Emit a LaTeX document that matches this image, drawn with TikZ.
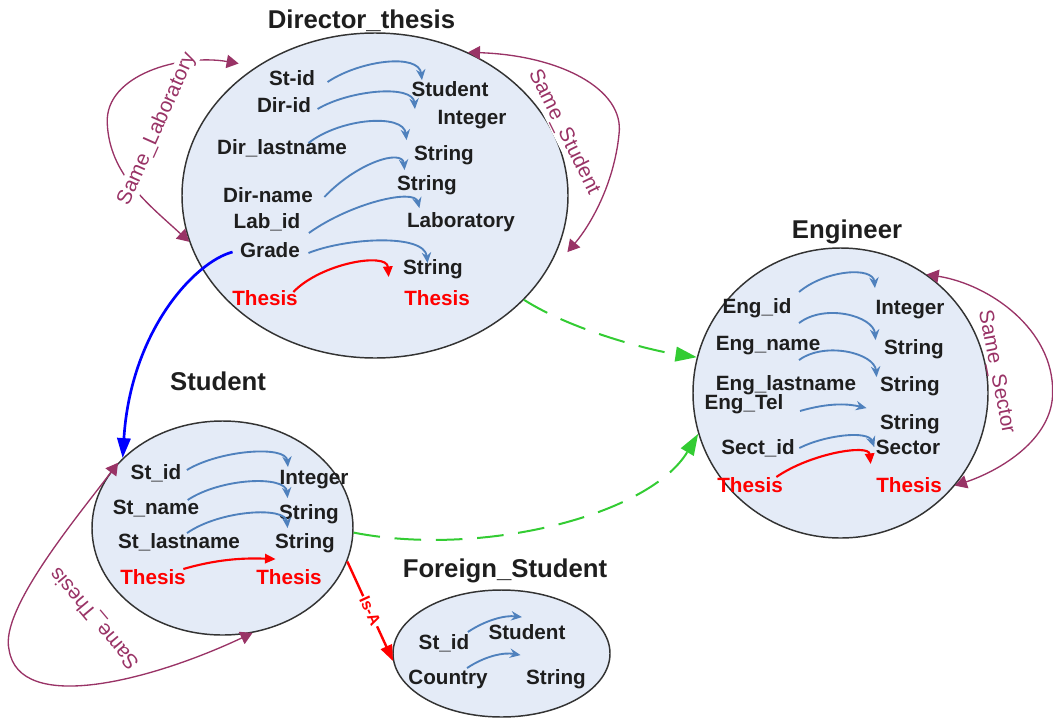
\documentclass[tikz,border=0pt]{standalone}
\usepackage{fontspec}
\setmainfont{Liberation Sans}
\usetikzlibrary{arrows.meta, positioning, shapes.geometric}
\definecolor{entfill}{RGB}{228,235,247}
\definecolor{typeblue}{RGB}{79,129,189}
\definecolor{loopcolor}{RGB}{153,51,102}
\definecolor{linkgreen}{RGB}{51,204,51}
\definecolor{inkcolor}{RGB}{30,30,30}
\tikzset{
  entity/.style    = {ellipse, draw=black!80, fill=entfill, line width=1.1pt, inner sep=0pt},
  enttitle/.style  = {font=\fontsize{19.3}{22}\selectfont\bfseries, text=inkcolor,
                      inner sep=1pt, text height=13.8pt, text depth=0pt},
  attr/.style      = {font=\fontsize{15.5}{18}\selectfont\bfseries, text=inkcolor,
                      inner sep=1pt, text height=11pt, text depth=0pt},
  thesis/.style    = {attr, text=red},
  typearrow/.style = {-{Stealth[length=8pt,width=7pt]}, typeblue, line width=1.4pt},
  refarrow/.style  = {-{Triangle[length=8pt,width=7pt]}, red, line width=1.6pt},
  gradearrow/.style= {-{Triangle[length=15pt,width=10pt]}, blue, line width=2pt},
  isaarrow/.style  = {-{Triangle[length=12pt,width=9pt]}, red, line width=1.8pt},
  isalabel/.style  = {font=\fontsize{12}{14}\selectfont\bfseries, text=red, fill=white, inner sep=1pt},
  selfloop/.style  = {{Triangle[length=9pt,width=10pt]}-{Triangle[length=9pt,width=10pt]},
                      loopcolor, line width=1pt},
  looplabel/.style = {font=\fontsize{15.5}{18}\selectfont, text=loopcolor, inner sep=1pt},
  assoc/.style     = {-{Triangle[length=16pt,width=11pt]}, linkgreen, line width=1.5pt,
                      dash pattern=on 20pt off 11pt},
}

\begin{document}
\begin{tikzpicture}[x=0.75pt, y=-0.75pt]
  \useasboundingbox (0,0) rectangle (1053,718);
  % entities
  \node[entity, minimum width=289.5pt, minimum height=243.75pt] (dir) at (375,195.5) {};
  \node[entity, minimum width=221.25pt, minimum height=217.5pt] (eng) at (840.5,393) {};
  \node[entity, minimum width=195.75pt, minimum height=160.5pt] (stu) at (222.5,528) {};
  \node[entity, minimum width=162.75pt, minimum height=95.25pt] (fst) at (501.5,653.5) {};
  \node[enttitle] (dirT) at (361.5,19) {Director\_thesis};
  \node[enttitle] (engT) at (847,229) {Engineer};
  \node[enttitle] (stuT) at (218,381.5) {Student};
  \node[enttitle] (fstT) at (505,568.5) {Foreign\_Student};

  % Director_thesis attributes
  \foreach \n/\x/\y/\t in {dSt/292/78/St-id, dDid/284/105/Dir-id, dDln/282/147/Dir\_lastname,
      dDnm/268/195/Dir-name, dLab/267/221/Lab\_id, dGr/270/250/Grade,
      tStu/450/89/Student, tInt/472/117/Integer, tS1/444/153/String, tS2/427/183/String,
      tLab/461/220/Laboratory, tS3/433/267/String} {
    \node[attr] (\n) at (\x,\y) {\t};
  }
  \node[thesis] (dTh) at (265,298) {Thesis};
  \node[thesis] (tTh) at (437,298) {Thesis};
  \draw[typearrow] ([shift={(11,4)}]dSt.east) .. controls +(33,-22) and +(-3,-27) .. ([shift={(12,0)}]tStu.north west);
  \draw[typearrow] ([shift={(5,4)}]dDid.east) .. controls +(32,-19) and +(-2,-25) .. ([shift={(-21,1)}]tInt.north west);
  \draw[typearrow] ([shift={(-40,-4)}]dDln.east) .. controls +(32,-25) and +(-3,-27) .. ([shift={(-6,-4)}]tS1.north west);
  \draw[typearrow] ([shift={(10,2)}]dDnm.east) .. controls +(32,-34) and +(-2,-22) .. ([shift={(9,-4)}]tS2.north west);
  \draw[typearrow] ([shift={(7,12)}]dLab.east) .. controls +(42,-30) and +(-5,-20) .. ([shift={(14,-3)}]tLab.north west);
  \draw[typearrow] ([shift={(7,3)}]dGr.east) .. controls +(37,-15) and +(-3,-30) .. ([shift={(26,5)}]tS3.north west);
  \draw[refarrow] ([shift={(-6,-6)}]dTh.east) .. controls +(28,-29) and +(-2,-25) .. ([shift={(-14,-12)}]tTh.north west);

  % Engineer attributes
  \foreach \n/\x/\y/\t in {eId/757/306/Eng\_id, eNm/768/343/Eng\_name, eLn/786/383/Eng\_lastname,
      eTel/744/402/Eng\_Tel, eSec/758/447/Sect\_id, eInt/910/307/Integer, eS1/914/347/String,
      eS2/910/384/String, eS3/910/422/String, eSct/908/447/Sector} {
    \node[attr] (\n) at (\x,\y) {\t};
  }
  \node[thesis] (eTh) at (750,485) {Thesis};
  \node[thesis] (eTt) at (909,485) {Thesis};
  \draw[typearrow] ([shift={(6,-14)}]eId.east) .. controls +(26,-22) and +(-2,-22) .. ([shift={(1,-10)}]eInt.north west);
  \draw[typearrow] ([shift={(31,-11)}]eNm.north) .. controls +(26,-20) and +(-2,-24) .. ([shift={(-7,2)}]eS1.north west);
  \draw[typearrow] ([shift={(13,-14)}]eLn.north) .. controls +(26,-19) and +(-2,-24) .. ([shift={(-2,2)}]eS2.north west);
  \draw[typearrow] ([shift={(15,9)}]eTel.east) .. controls +(31,-9) and +(-17,-4) .. ([shift={(-12,-5)}]eS3.north west);
  \draw[typearrow] ([shift={(3,1)}]eSec.east) .. controls +(26,-13) and +(-6,-17) .. ([shift={(0,9)}]eSct.north west);
  \draw[refarrow] ([shift={(-8,-8)}]eTh.east) .. controls +(35,-24) and +(-2,-20) .. ([shift={(-4,-12)}]eTt.north west);

  % Student attributes
  \foreach \n/\x/\y/\t in {sId/156/472/St\_id, sNm/156/507/St\_name, sLn/179/541/St\_lastname,
      sInt/314/477/Integer, sS1/309/512/String, sS2/305/541/String} {
    \node[attr] (\n) at (\x,\y) {\t};
  }
  \node[thesis] (sTh) at (153,577) {Thesis};
  \node[thesis] (sTt) at (289,577) {Thesis};
  \draw[typearrow] ([shift={(4,-2)}]sId.east) .. controls +(33,-20) and +(-2,-22) .. ([shift={(10,-1)}]sInt.north west);
  \draw[typearrow] ([shift={(-13,-7)}]sNm.east) .. controls +(33,-22) and +(-2,-23) .. ([shift={(10,-5)}]sS1.north west);
  \draw[typearrow] ([shift={(8,1)}]sLn.north) .. controls +(33,-23) and +(-2,-22) .. ([shift={(14,-4)}]sS2.north west);
  \draw[refarrow] ([shift={(-4,-8)}]sTh.east) .. controls +(38,-11) and +(-27,-1) .. ([shift={(21,-9)}]sTt.north west);

  % Foreign_Student attributes
  \foreach \n/\x/\y/\t in {fId/444/642/St\_id, fCo/448/677/Country, fStu/527/632/Student, fStr/556/677/String} {
    \node[attr] (\n) at (\x,\y) {\t};
  }
  \draw[typearrow] ([shift={(-3,-10)}]fId.east) .. controls +(18,-12) and +(-17,-2) .. ([shift={(35,-6)}]fStu.north west);
  \draw[typearrow] ([shift={(19,0)}]fCo.north) .. controls +(18,-12) and +(-17,-3) .. ([shift={(-4,-13)}]fStr.north west);

  % links between entities
  \draw[gradearrow] ([shift={(-6,2)}]dGr.west) .. controls +(-38,10) and +(8,-127) .. (stu.145);
  \draw[assoc] (dir.-35) .. controls +(47,30) and +(-48,-7) .. (eng.166);
  \draw[assoc] (stu.-2) .. controls +(127,25) and +(-49,82) .. (eng.196);
  \draw[isaarrow] (stu.-15) -- node[isalabel, sloped] (isa) {Is-A} (fst.184);

  % self loops
  \draw[selfloop] (dir.194) .. controls +(-40,-37) and +(2,52) .. ++(-82,-119)
        .. controls +(-2,-48) and +(-58,-10) .. ([shift={(-9,-9)}]dir.136);
  \draw[selfloop] (dir.57) .. controls +(92,3) and +(6,-45) .. ++(151,82)
        .. controls +(-5,50) and +(23,-27) .. ([shift={(9,4)}]dir.-16);
  \draw[selfloop] (eng.54) .. controls +(63,10) and +(1,-63) .. ++(126,118)
        .. controls +(0,47) and +(45,-15) .. (eng.-39);
  \draw[selfloop] (stu.148) .. controls +(-39,52) and +(-10,-40) .. ++(-109,187)
        .. controls +(10,65) and +(-102,48) .. (stu.-74);
  \node[looplabel, fill=white, rotate=66] (labLab) at (157,129) {Same\_Laboratory};
  \node[looplabel, fill=white, rotate=-63.6] (labStu) at (564,132) {Same\_Student};
  \node[looplabel, rotate=-79] (labSec) at (996,372) {Same\_Sector};
  \node[looplabel, rotate=130] (labThe) at (95,618) {Same\_Thesis};
\end{tikzpicture}
\end{document}
